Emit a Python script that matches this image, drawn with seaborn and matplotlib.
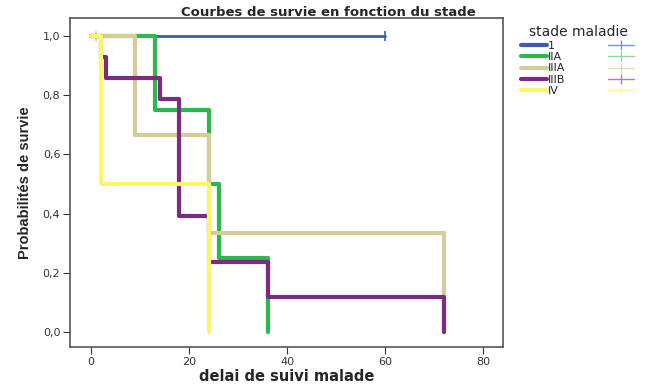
import matplotlib
matplotlib.use("Agg")
import numpy as np
import pandas as pd
import seaborn as sns
from matplotlib import pyplot as plt
from matplotlib.lines import Line2D

# courbes de Kaplan-Meier
stades = ["1", "IIA", "IIIA", "IIIB", "IV"]
temps_1 = [0, 60]
surv_1 = [1.0, 1.0]
temps_IIA = [0, 13, 24, 26, 36]
surv_IIA = [1.0, 0.75, 0.5, 0.25, 0.0]
temps_IIIA = [0, 9, 24, 72]
surv_IIIA = [1.0, 0.667, 0.333, 0.0]
temps_IIIB = [0, 2, 3, 14, 18, 24, 36, 72]
surv_IIIB = [1.0, 0.929, 0.857, 0.786, 0.393, 0.236, 0.118, 0.0]
temps_IV = [0, 2, 24]
surv_IV = [1.0, 0.5, 0.0]

# observations censurées
cens_stade = ["1", "IIIA", "IIA"]
cens_temps = [60, 1, 26]
cens_surv = [1.0, 1.0, 0.25]

couleurs = ["#3E5BB0", "#2CB84C", "#D5CD97", "#7C2A82", "#FBF56A"]
couleurs_cens = ["#7E92D0", "#8ADB98", "#E3DDB0", "#B27BB5", "#FBF8A8"]

temps = [temps_1, temps_IIA, temps_IIIA, temps_IIIB, temps_IV]
survs = [surv_1, surv_IIA, surv_IIIA, surv_IIIB, surv_IV]
df = pd.concat([pd.DataFrame({"t": t, "s": s, "stade": st}) for t, s, st in zip(temps, survs, stades)],
               ignore_index=True)
df_cens = pd.DataFrame({"t": cens_temps, "s": cens_surv, "stade": cens_stade})

sns.set_style("white")
plt.rcParams["font.family"] = ["DejaVu Sans"]

fig = plt.figure(figsize=(6.51, 3.87), dpi=100)
ax = fig.add_axes([0.1075, 0.1034, 0.665, 0.850])

palette = dict(zip(stades, couleurs))
for st, c in zip(stades, couleurs):
    sub = df[df["stade"] == st]
    sns.lineplot(data=sub, x="t", y="s", color=c, drawstyle="steps-post", estimator=None,
                 sort=False, lw=2.0 if st == "1" else 3.0, ax=ax, legend=False)
sns.scatterplot(data=df_cens, x="t", y="s", hue="stade", palette=palette, marker="|", s=50,
                linewidth=1.2, ax=ax, legend=False)

ax.set_xlim(-4.3, 84)
ax.set_ylim(-0.05, 1.06)
ax.set_xticks([0, 20, 40, 60, 80])
ax.set_yticks([0, 0.2, 0.4, 0.6, 0.8, 1.0])
ax.set_yticklabels([f"{v:.1f}".replace(".", ",") for v in [0, 0.2, 0.4, 0.6, 0.8, 1.0]])
ax.tick_params(axis="both", direction="out", length=5, width=0.8, labelsize=8, colors="#333333",
               left=True, bottom=True, pad=2)
for sp in ax.spines.values():
    sp.set_color("#555555")
    sp.set_linewidth(1.2)

fig.text(0.505, 0.958, "Courbes de survie en fonction du stade", fontsize=9.5, fontweight="bold",
         ha="center", va="baseline")
ax.set_xlabel("delai de suivi malade", fontsize=10.5, fontweight="bold", labelpad=2)
ax.set_ylabel("Probabilités de survie", fontsize=10.5, fontweight="bold", labelpad=8,
              family=["Liberation Sans"])

handles = [Line2D([], [], color=c, lw=3) for c in couleurs]
handles += [Line2D([], [], color=c, lw=1, marker="|", markersize=7) for c in couleurs_cens]
fig.legend(handles, stades + [""] * 5, ncol=2, title="stade maladie", loc="upper left",
           bbox_to_anchor=(0.785, 0.96), frameon=False, fontsize=8, title_fontsize=10,
           handlelength=2.3, handletextpad=0.1, labelspacing=0.12, columnspacing=3.9)

plt.savefig("out.png", dpi=100)
